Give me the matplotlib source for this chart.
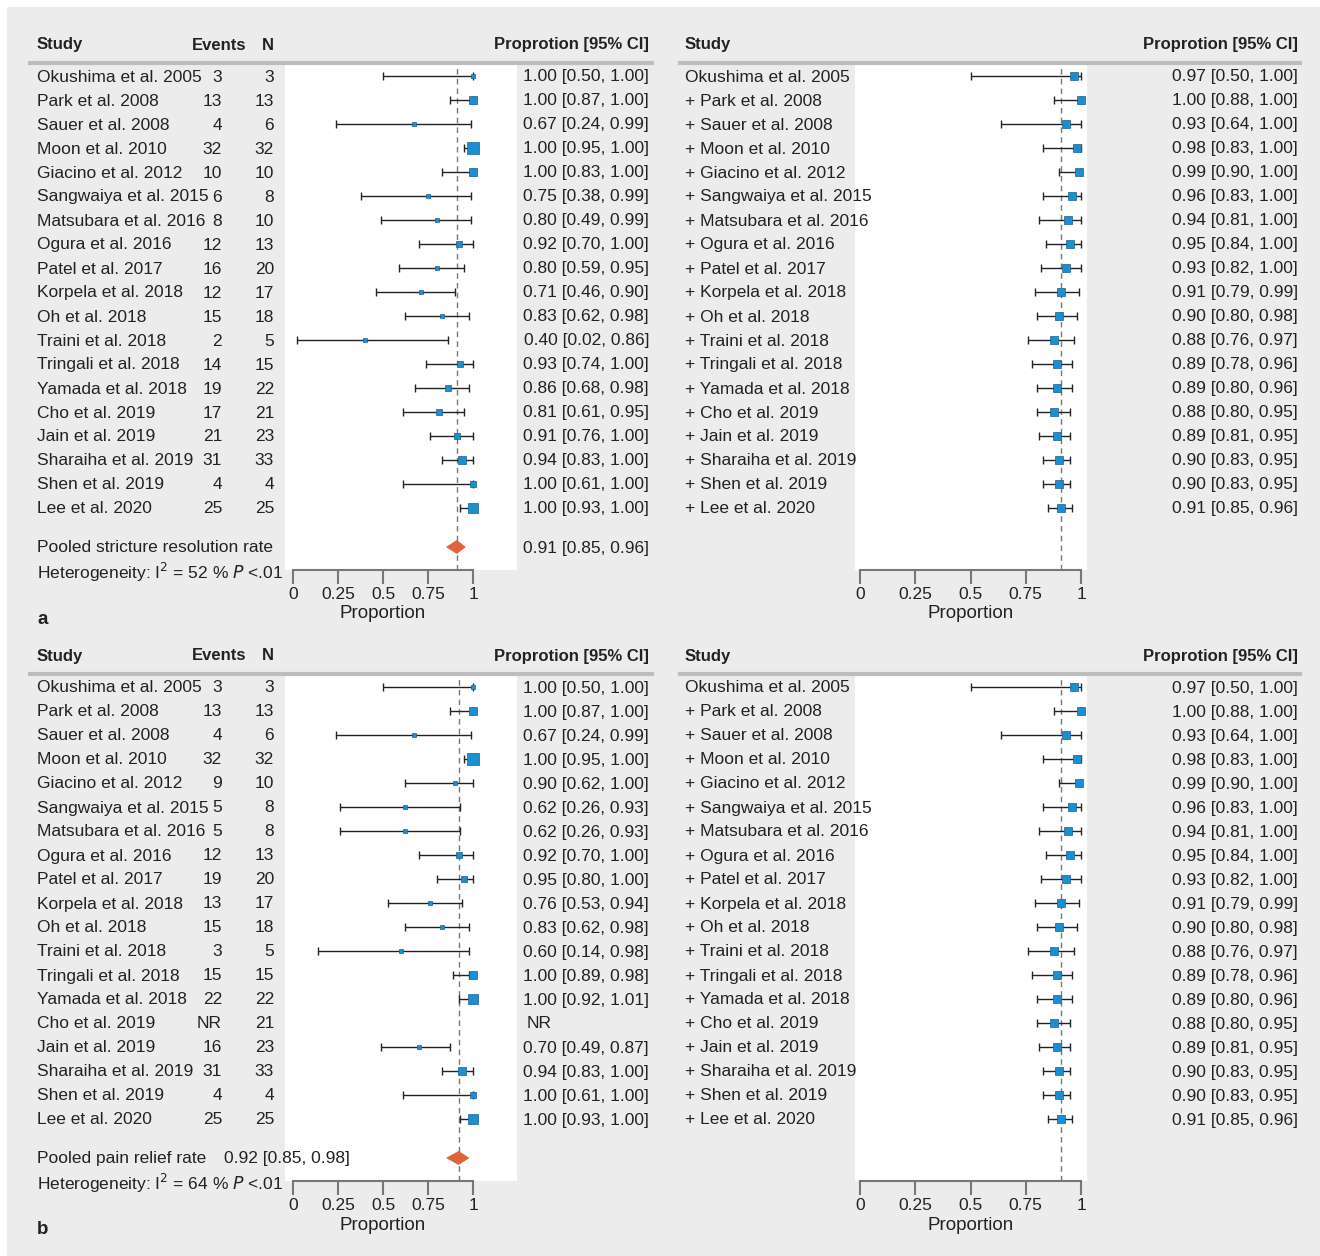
import matplotlib
matplotlib.use("Agg")
import matplotlib.pyplot as plt
from matplotlib.patches import Rectangle, Polygon
import numpy as np

W, H = 1320, 1256
plt.rcParams['font.family'] = ['Liberation Sans', 'DejaVu Sans']

STUDIES = ["Okushima et al. 2005", "Park et al. 2008", "Sauer et al. 2008", "Moon et al. 2010",
           "Giacino et al. 2012", "Sangwaiya et al. 2015", "Matsubara et al. 2016", "Ogura et al. 2016",
           "Patel et al. 2017", "Korpela et al. 2018", "Oh et al. 2018", "Traini et al. 2018",
           "Tringali et al. 2018", "Yamada et al. 2018", "Cho et al. 2019", "Jain et al. 2019",
           "Sharaiha et al. 2019", "Shen et al. 2019", "Lee et al. 2020"]

# panel a, single studies
A_EVENTS = [3, 13, 4, 32, 10, 6, 8, 12, 16, 12, 15, 2, 14, 19, 17, 21, 31, 4, 25]
A_N = [3, 13, 6, 32, 10, 8, 10, 13, 20, 17, 18, 5, 15, 22, 21, 23, 33, 4, 25]
A_EST = [1.00, 1.00, 0.67, 1.00, 1.00, 0.75, 0.80, 0.92, 0.80, 0.71, 0.83, 0.40, 0.93, 0.86, 0.81, 0.91, 0.94, 1.00, 1.00]
A_LO = [0.50, 0.87, 0.24, 0.95, 0.83, 0.38, 0.49, 0.70, 0.59, 0.46, 0.62, 0.02, 0.74, 0.68, 0.61, 0.76, 0.83, 0.61, 0.93]
A_HI = [1.00, 1.00, 0.99, 1.00, 1.00, 0.99, 0.99, 1.00, 0.95, 0.90, 0.98, 0.86, 1.00, 0.98, 0.95, 1.00, 1.00, 1.00, 1.00]
A_POOLED = (0.91, 0.85, 0.96)
A_HET = "52"

# panel b, single studies (None = not reported)
B_EVENTS = [3, 13, 4, 32, 9, 5, 5, 12, 19, 13, 15, 3, 15, 22, None, 16, 31, 4, 25]
B_N = [3, 13, 6, 32, 10, 8, 8, 13, 20, 17, 18, 5, 15, 22, 21, 23, 33, 4, 25]
B_EST = [1.00, 1.00, 0.67, 1.00, 0.90, 0.62, 0.62, 0.92, 0.95, 0.76, 0.83, 0.60, 1.00, 1.00, None, 0.70, 0.94, 1.00, 1.00]
B_LO = [0.50, 0.87, 0.24, 0.95, 0.62, 0.26, 0.26, 0.70, 0.80, 0.53, 0.62, 0.14, 0.89, 0.92, None, 0.49, 0.83, 0.61, 0.93]
B_HI = [1.00, 1.00, 0.99, 1.00, 1.00, 0.93, 0.93, 1.00, 1.00, 0.94, 0.98, 0.98, 0.98, 1.01, None, 0.87, 1.00, 1.00, 1.00]
B_POOLED = (0.92, 0.85, 0.98)
B_HET = "64"

# cumulative meta-analysis (same in both panels)
C_EST = [0.97, 1.00, 0.93, 0.98, 0.99, 0.96, 0.94, 0.95, 0.93, 0.91, 0.90, 0.88, 0.89, 0.89, 0.88, 0.89, 0.90, 0.90, 0.91]
C_LO = [0.50, 0.88, 0.64, 0.83, 0.90, 0.83, 0.81, 0.84, 0.82, 0.79, 0.80, 0.76, 0.78, 0.80, 0.80, 0.81, 0.83, 0.83, 0.85]
C_HI = [1.00, 1.00, 1.00, 1.00, 1.00, 1.00, 1.00, 1.00, 1.00, 0.99, 0.98, 0.97, 0.96, 0.96, 0.95, 0.95, 0.95, 0.95, 0.96]

BLUE = "#1b8fd2"
ORANGE = "#e0643a"
TXT = "#222222"
FS = 12.5

fig = plt.figure(figsize=(W / 100, H / 100), dpi=100, facecolor="white")
fig.patches.append(Rectangle((7 / W, 0), 1 - 7 / W, 1 - 7 / H, transform=fig.transFigure,
                             facecolor="#ebeceb", edgecolor="none", zorder=-10))


def t(x, y, s, ha="left", **kw):
    kw.setdefault("fontsize", FS)
    kw.setdefault("color", TXT)
    fig.text(x / W, 1 - (y + 1) / H, s, ha=ha, va="center", **kw)


def fmt(e, l, h):
    return f"{e:.2f} [{l:.2f}, {h:.2f}]"


def ci(ax, lo, hi, y):
    ax.hlines(y, lo, hi, color="#222222", lw=1, zorder=2)
    ax.plot([lo, hi], [y, y], "|", color="#222222", ms=6, mew=1, zorder=2)


def forest_axes(x0, x1, zero, one, top, bottom, off):
    ax = fig.add_axes([x0 / W, 1 - (bottom + off) / H, (x1 - x0) / W, (bottom - top) / H])
    ax.set_facecolor("white")
    ax.set_xlim((x0 - zero) / (one - zero), (x1 - zero) / (one - zero))
    ax.set_ylim(bottom, top)
    for s in ["top", "left", "right"]:
        ax.spines[s].set_visible(False)
    ax.spines["bottom"].set_bounds(0, 1)
    ax.spines["bottom"].set_color("#777777")
    ax.spines["bottom"].set_linewidth(1.5)
    ax.set_yticks([])
    ax.set_xticks([0, 0.25, 0.5, 0.75, 1])
    ax.set_xticklabels(["0", "0.25", "0.5", "0.75", "1"], fontsize=FS, color=TXT)
    ax.tick_params(axis="x", direction="out", length=10, width=1.5, color="#777777", pad=2)
    ax.text(0.5, bottom + 44, "Proportion", ha="center", va="center", fontsize=FS + 1,
            color=TXT, clip_on=False)
    return ax


ROWS = [76 + 24 * i for i in range(len(STUDIES))]


def panel(off, letter, events, ns, est, lo, hi, pooled, het, pooled_name, pooled_inline):
    # headers
    for x0, x1 in [(30, 652), (680, 1300)]:
        fig.add_artist(plt.Line2D([x0 / W, x1 / W], [1 - (63 + off) / H] * 2,
                                  color="#bdbdbd", lw=3, transform=fig.transFigure))
    hk = dict(fontweight="bold", fontsize=FS - 0.5)
    t(37, 44 + off, "Study", **hk)
    t(192, 44 + off, "Events", **hk)
    t(262, 44 + off, "N", **hk)
    t(649, 44 + off, "Proprotion [95% CI]", ha="right", **hk)
    t(685, 44 + off, "Study", **hk)
    t(1298, 44 + off, "Proprotion [95% CI]", ha="right", **hk)

    # left forest
    ax = forest_axes(285, 517, 293, 473, 65, 570, off)
    for i, y in enumerate(ROWS):
        t(37, y + off, STUDIES[i])
        t(222, y + off, "NR" if events[i] is None else str(events[i]), ha="right")
        t(274, y + off, str(ns[i]), ha="right")
        if est[i] is None:
            t(527, y + off, "NR")
            continue
        t(649, y + off, fmt(est[i], lo[i], hi[i]), ha="right")
        ci(ax, lo[i], hi[i], y)
        w = ns[i] / (est[i] * (1 - est[i]) + 0.03)
        ax.plot(est[i], y, "s", color=BLUE, ms=1.5 + 0.2 * np.sqrt(w), mec="#1a5f8a", mew=0.5, zorder=3)
    pe, pl, ph = pooled
    yp = 547
    ax.axvline(pe, color="#777777", ls=(0, (4, 3)), lw=1, zorder=1)
    ax.add_patch(Polygon([[pl, yp], [pe, yp - 7], [ph, yp], [pe, yp + 7]], closed=True,
                         facecolor=ORANGE, edgecolor="none", zorder=3))
    t(37, yp + off, pooled_name)
    if pooled_inline:
        t(224, yp + off, fmt(pe, pl, ph))
    else:
        t(649, yp + off, fmt(pe, pl, ph), ha="right")
    t(37, 571 + off, "Heterogeneity: I$^2$ = " + het + " % $\\it{P}$ <.01")
    t(37, 618 + off, letter, fontweight="bold", fontsize=FS + 1)

    # right cumulative forest
    ax2 = forest_axes(855, 1087, 860, 1081, 65, 570, off)
    for i, y in enumerate(ROWS):
        t(685, y + off, STUDIES[i] if i == 0 else "+ " + STUDIES[i])
        t(1298, y + off, fmt(C_EST[i], C_LO[i], C_HI[i]), ha="right")
        ci(ax2, C_LO[i], C_HI[i], y)
        ax2.plot(C_EST[i], y, "s", color=BLUE, ms=5.5, mec="#1a5f8a", mew=0.5, zorder=3)
    ax2.axvline(C_EST[-1], color="#777777", ls=(0, (4, 3)), lw=1, zorder=1)


panel(0, "a", A_EVENTS, A_N, A_EST, A_LO, A_HI, A_POOLED, A_HET, "Pooled stricture resolution rate", False)
panel(611, "b", B_EVENTS, B_N, B_EST, B_LO, B_HI, B_POOLED, B_HET, "Pooled pain relief rate", True)

fig.savefig("out.png", dpi=100, facecolor=fig.get_facecolor())
